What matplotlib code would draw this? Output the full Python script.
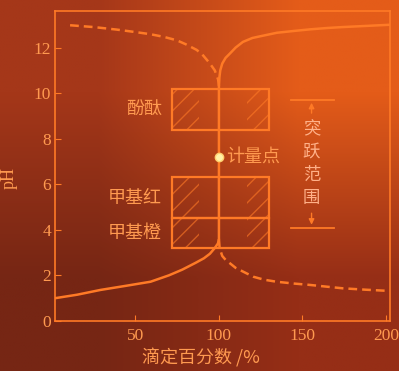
import numpy as np
import matplotlib.pyplot as plt
from matplotlib.patches import Rectangle

plt.rcParams['font.family'] = ['Noto Sans CJK SC', 'DejaVu Sans']
plt.rcParams['hatch.linewidth'] = 1.0

# === DATA ===
# solid curve
solid_x = [2, 15, 29, 45, 59, 70, 78, 86, 91, 94.6, 97.5, 99.4, 100, 100, 100.3, 100.8,
           102, 104, 106.6, 110, 114.4, 120, 125, 134.7, 145, 154.5, 165, 174, 188, 202]
solid_ph = [1.0, 1.15, 1.36, 1.55, 1.72, 2.0, 2.25, 2.55, 2.75, 2.95, 3.2, 3.4, 3.6, 10.3, 10.7, 11.0,
            11.3, 11.55, 11.74, 12.0, 12.25, 12.42, 12.5, 12.65, 12.73, 12.8, 12.86, 12.9, 12.95, 13.0]

# dashed curve, left and right branches
dash_l_x = [10.8, 25, 38.7, 48, 58.7, 67, 74.7, 80, 86.6, 90, 94.6, 97.5, 99.5, 100]
dash_l_ph = [12.98, 12.9, 12.79, 12.7, 12.59, 12.47, 12.32, 12.15, 11.9, 11.7, 11.3, 11.0, 10.6, 10.3]
dash_r_x = [100, 100.4, 102, 104, 106.6, 110, 114.6, 120.6, 127, 134.5, 145, 154.5, 165, 174.4, 188, 201]
dash_r_ph = [3.6, 3.2, 2.85, 2.68, 2.53, 2.33, 2.16, 1.94, 1.81, 1.72, 1.64, 1.58, 1.5, 1.43, 1.37, 1.32]

# indicator boxes
indicators = ['酚酞', '甲基红', '甲基橙']
ind_low = [8.4, 4.5, 3.2]
ind_high = [10.2, 6.3, 4.5]
box_x = [72, 130]
hatch_left = [72, 88]
hatch_right = [117, 130]

eq_x, eq_ph = 100, 7.2
jump_low, jump_high = 4.1, 9.7
jump_x = [143, 169]
jump_arrow_x = 155.5

x_ticks = [50, 100, 150, 200]
y_ticks = [0, 2, 4, 6, 8, 10, 12]

line_c = '#ff7a26'
text_c = '#ff9a50'

fig = plt.figure(figsize=(3.99, 3.71), dpi=100)

# === background ===
bg = fig.add_axes([0, 0, 1, 1])
corners = np.array([[[165, 55, 25], [228, 92, 25]],
                    [[118, 38, 20], [150, 46, 22]]]) / 255.0
bg.imshow(corners, interpolation='bilinear', aspect='auto', extent=[0, 1, 0, 1])
bg.axis('off')

ax = fig.add_axes([0.138, 0.135, 0.839, 0.835])
ax.set_facecolor('none')

# === curves ===
ax.plot(solid_x, solid_ph, color=line_c, lw=1.8)
ax.plot(dash_l_x, dash_l_ph, color=line_c, lw=1.8, ls=(0, (3.5, 2)))
ax.plot(dash_r_x, dash_r_ph, color=line_c, lw=1.8, ls=(0, (3.5, 2)))

# === indicator boxes ===
for name, lo, hi in zip(indicators, ind_low, ind_high):
    ax.add_patch(Rectangle((box_x[0], lo), box_x[1] - box_x[0], hi - lo,
                           fill=False, edgecolor=line_c, lw=1.6))
    for hx in (hatch_left, hatch_right):
        ax.add_patch(Rectangle((hx[0], lo), hx[1] - hx[0], hi - lo, fill=False,
                               hatch='//', edgecolor=line_c, lw=0, alpha=0.6))
    ax.text(66, (lo + hi) / 2, name, color=text_c, fontsize=13, ha='right', va='center')

# === equivalence point ===
ax.plot(eq_x, eq_ph, 'o', color='#fff2a8', ms=6, mec='#ffd070', zorder=5)
ax.text(eq_x + 4.5, eq_ph, '计量点', color=text_c, fontsize=13, va='center')

# === jump range ===
for yv in (jump_low, jump_high):
    ax.plot(jump_x, [yv, yv], color=line_c, lw=1.3)
ax.annotate('', xy=(jump_arrow_x, jump_high), xytext=(jump_arrow_x, 9.0),
            arrowprops=dict(arrowstyle='-|>', color=line_c, lw=1.0, mutation_scale=8))
ax.annotate('', xy=(jump_arrow_x, jump_low), xytext=(jump_arrow_x, 4.85),
            arrowprops=dict(arrowstyle='-|>', color=line_c, lw=1.0, mutation_scale=8))
ax.text(jump_arrow_x, 6.9, '突\n跃\n范\n围', color='#ffb088', fontsize=12.5,
        ha='center', va='center', linespacing=1.35)

# === axes ===
ax.set_xlim(1.8, 202.4)
ax.set_ylim(0, 13.6)
ax.set_xticks(x_ticks)
ax.set_yticks(y_ticks)
for lab in ax.get_xticklabels() + ax.get_yticklabels():
    lab.set_family('Liberation Serif')
ax.tick_params(direction='in', length=4, colors=line_c, labelcolor=text_c, labelsize=12.5)
ax.tick_params(axis='x', pad=5)
ax.tick_params(axis='y', pad=3)
for sp in ax.spines.values():
    sp.set_color(line_c)
    sp.set_linewidth(1.2)

ax.set_ylabel('pH', color=text_c, fontsize=13, family='Liberation Serif')
ax.yaxis.set_label_coords(-0.113, 0.46)
ax.set_xlabel('滴定百分数 /%', color=text_c, fontsize=13)
ax.xaxis.set_label_coords(0.436, -0.09)

fig.savefig('out.png', dpi=100)
